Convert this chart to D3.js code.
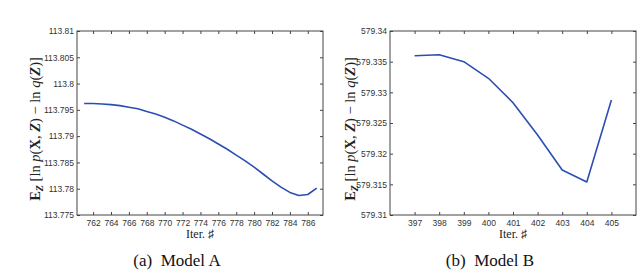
<!DOCTYPE html>
<html>
<head>
<meta charset="utf-8">
<script src="https://cdn.jsdelivr.net/npm/d3@7"></script>
<style>
  body { margin: 0; background: #fff; }
  svg { display: block; }
  .tick text { font-family: "Liberation Sans", Arial, sans-serif; font-size: 8.5px; fill: #333; }
  .frame { fill: none; stroke: #444; stroke-width: 1; }
</style>
</head>
<body>
<div id="chart"></div>
<script>
// Model A: iterations and objective values
var itersA = [761, 762, 763, 764, 765, 766, 767, 768, 769, 770, 771, 772, 773, 774,
              775, 776, 777, 778, 779, 780, 781, 782, 783, 784, 785, 786, 787];
var valuesA = [113.7962, 113.7962, 113.7961, 113.7960, 113.7958, 113.7955, 113.7952,
               113.7947, 113.7942, 113.7936, 113.7929, 113.7921, 113.7913, 113.7904,
               113.7895, 113.7885, 113.7875, 113.7864, 113.7853, 113.7841, 113.7828,
               113.7815, 113.7803, 113.7793, 113.7787, 113.7789, 113.7801];
var xTicksA = [762, 764, 766, 768, 770, 772, 774, 776, 778, 780, 782, 784, 786];
var yTicksA = [113.775, 113.78, 113.785, 113.79, 113.795, 113.8, 113.805, 113.81];

// Model B
var itersB = [397, 398, 399, 400, 401, 402, 403, 404, 405];
var valuesB = [579.33597, 579.33614, 579.3350, 579.33229, 579.32831, 579.32304,
               579.31734, 579.31538, 579.32875];
var xTicksB = [397, 398, 399, 400, 401, 402, 403, 404, 405];
var yTicksB = [579.31, 579.315, 579.32, 579.325, 579.33, 579.335, 579.34];

var svg = d3.select("#chart").append("svg")
    .attr("width", 640)
    .attr("height", 270);

function drawPanel(p) {
  var x = d3.scaleLinear().domain(p.xDomain).range([p.left, p.right]);
  var y = d3.scaleLinear().domain(p.yDomain).range([p.bottom, p.top]);

  var g = svg.append("g");

  // axes with inward ticks on all four sides (box on)
  g.append("g")
      .attr("class", "x axis")
      .attr("transform", "translate(0," + p.bottom + ")")
      .call(d3.axisBottom(x).tickValues(p.xTicks).tickSize(-3).tickPadding(5).tickFormat(d3.format("d")));
  g.append("g")
      .attr("transform", "translate(0," + p.top + ")")
      .call(d3.axisTop(x).tickValues(p.xTicks).tickSize(-3).tickFormat(""));
  g.append("g")
      .attr("class", "y axis")
      .attr("transform", "translate(" + p.left + ",0)")
      .call(d3.axisLeft(y).tickValues(p.yTicks).tickSize(-3).tickPadding(3).tickFormat(function(d){ return +d.toFixed(3) + ""; }));
  g.append("g")
      .attr("transform", "translate(" + p.right + ",0)")
      .call(d3.axisRight(y).tickValues(p.yTicks).tickSize(-3).tickFormat(""));

  g.selectAll(".domain").remove();
  g.selectAll(".tick line").attr("stroke", "#444");

  g.append("rect")
      .attr("class", "frame")
      .attr("x", p.left)
      .attr("y", p.top)
      .attr("width", p.right - p.left)
      .attr("height", p.bottom - p.top);

  var line = d3.line()
      .x(function(d, i){ return x(p.iters[i]); })
      .y(function(d){ return y(d); });

  g.append("path")
      .datum(p.values)
      .attr("d", line)
      .attr("fill", "none")
      .attr("stroke", "#2b4eb3")
      .attr("stroke-width", 1.6)
      .attr("stroke-linejoin", "round");

  // y label: E_Z [ln p(X, Z) - ln q(Z)]
  var yl = g.append("text")
      .attr("transform", "translate(" + p.yLabelX + "," + ((p.top + p.bottom) / 2 + 6) + ")rotate(-90)")
      .attr("text-anchor", "middle")
      .style("font-family", "'Liberation Serif', 'DejaVu Serif', serif")
      .style("font-size", "14.5px")
      .style("fill", "#222");
  yl.append("tspan").style("font-weight", "bold").text("E");
  yl.append("tspan").style("font-weight", "bold").style("font-style", "italic")
      .style("font-size", "10px").attr("dy", 3).text("Z");
  yl.append("tspan").attr("dy", -3).text(" [ln ");
  yl.append("tspan").style("font-style", "italic").text("p");
  yl.append("tspan").text("(");
  yl.append("tspan").style("font-weight", "bold").text("X");
  yl.append("tspan").text(", ");
  yl.append("tspan").style("font-weight", "bold").style("font-style", "italic").text("Z");
  yl.append("tspan").text(") \u2212 ln ");
  yl.append("tspan").style("font-style", "italic").text("q");
  yl.append("tspan").text("(");
  yl.append("tspan").style("font-weight", "bold").style("font-style", "italic").text("Z");
  yl.append("tspan").text(")]");

  // x label
  g.append("text")
      .attr("x", p.xLabelX)
      .attr("y", 238)
      .attr("text-anchor", "middle")
      .style("font-family", "'Liberation Serif', serif")
      .style("font-size", "12px")
      .style("fill", "#222")
      .text("Iter. \u266f");

  // caption
  g.append("text")
      .attr("x", p.captionX)
      .attr("y", 266)
      .attr("text-anchor", "middle")
      .style("font-family", "'Liberation Serif', serif")
      .style("font-size", "17px")
      .style("fill", "#111")
      .attr("xml:space", "preserve")
      .text(p.caption);
}

drawPanel({
  iters: itersA, values: valuesA, xTicks: xTicksA, yTicks: yTicksA,
  xDomain: [760.2, 787.7], yDomain: [113.775, 113.81],
  left: 77, right: 323, top: 31, bottom: 215,
  yLabelX: 40, xLabelX: 200, captionX: 177, caption: "(a)  Model A"
});

drawPanel({
  iters: itersB, values: valuesB, xTicks: xTicksB, yTicks: yTicksB,
  xDomain: [396, 406], yDomain: [579.31, 579.34],
  left: 390, right: 636, top: 31, bottom: 215,
  yLabelX: 355, xLabelX: 513, captionX: 490, caption: "(b)  Model B"
});
</script>
</body>
</html>
